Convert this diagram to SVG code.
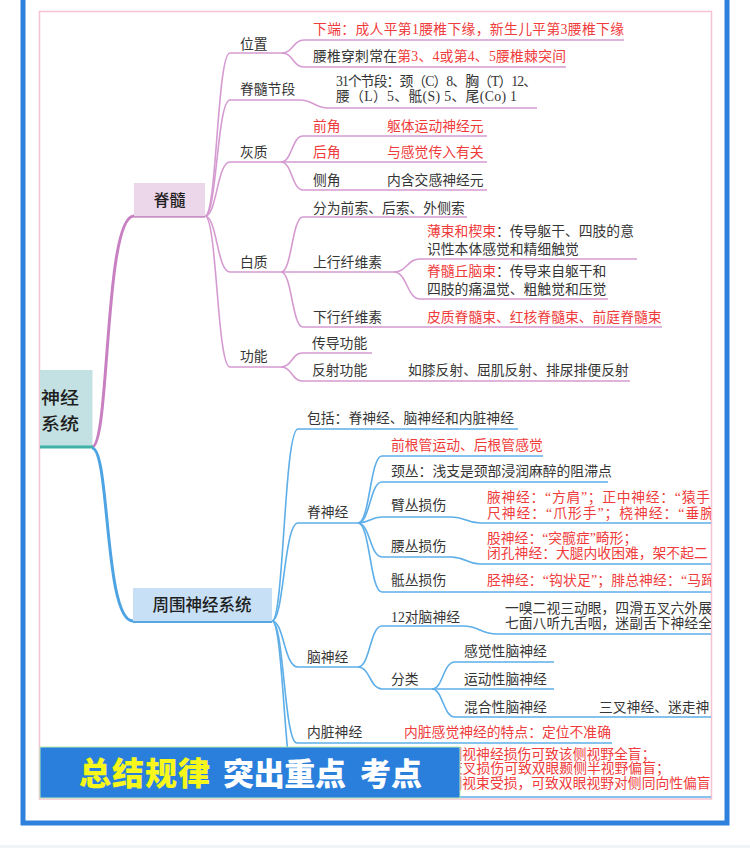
<svg xmlns="http://www.w3.org/2000/svg" width="750" height="848" viewBox="0 0 750 848">
<style>
.t{font-family:"Liberation Serif","Noto Sans CJK SC",serif;font-size:13.8px;fill:#353535}
.r{fill:#ef3b3b}
.pl{fill:none;stroke:#d59bd1;stroke-width:1.6}
.pm{fill:none;stroke:#c880c2;stroke-width:3}
.bl{fill:none;stroke:#5eaee8;stroke-width:1.6}
.bm{fill:none;stroke:#4ea3e3;stroke-width:3}
.hd{font-family:"Noto Sans CJK SC",sans-serif;font-weight:500;fill:#1e1e1e}
.bn{font-family:"Noto Sans CJK SC",sans-serif;font-weight:900}
</style>
<defs>
<clipPath id="frame"><rect x="40" y="12" width="671" height="787"/></clipPath>
</defs>
<rect x="0" y="0" width="750" height="848" fill="#ffffff"/>
<rect x="0" y="845" width="750" height="3" fill="#f0f3f7"/>
<rect x="39.5" y="11.5" width="672" height="787.5" fill="none" stroke="#f7c3d3" stroke-width="1.5"/>

<g clip-path="url(#frame)">
<g id="connectors">
  <path class="pm" d="M92,447 C110,447 104,216 134,216"/>
  <path d="M134,216 L205,216" stroke="#c98fc3" stroke-width="3.5" fill="none"/>
  <path class="pl" d="M205,216 C217,216 217,53 230,53 L282,53"/>
  <path class="pl" d="M205,216 C217,216 217,100 230,100 L300,100 C313,100 315,108 328,108 L537,108"/>
  <path class="pl" d="M205,216 C217,216 217,162 230,162 L281,162"/>
  <path class="pl" d="M205,216 C217,216 217,272 230,272 L281,272"/>
  <path class="pl" d="M205,216 C217,216 217,367 230,367 L281,367"/>
  <path class="pl" d="M282,53 C293,53 293,40 304,40 L624,40"/>
  <path class="pl" d="M282,53 C293,53 293,67 304,67 L566,67"/>
  <path class="pl" d="M281,162 C292,162 292,136 303,136 L487,136"/>
  <path class="pl" d="M281,162 L487,162"/>
  <path class="pl" d="M281,162 C292,162 292,190 303,190 L487,190"/>
  <path class="pl" d="M281,272 C292,272 292,217 303,217 L467,217"/>
  <path class="pl" d="M281,272 L394,272"/>
  <path class="pl" d="M281,272 C292,272 292,327 303,327 L662,327"/>
  <path class="pl" d="M394,272 C407,272 407,259 420,259 L637,259"/>
  <path class="pl" d="M394,272 C407,272 407,299 420,299 L608,299"/>
  <path class="pl" d="M281,367 C292,367 292,353 302,353 L372,353"/>
  <path class="pl" d="M281,367 C292,367 292,381 302,381 L630,381"/>

  <path class="bm" d="M92,448 C110,448 104,621 133,621"/>
  <path d="M133,621 L272,621" stroke="#58a6e0" stroke-width="4" fill="none"/>
  <path class="bl" d="M272,621 C284,621 284,429 298,429 L518,429"/>
  <path class="bl" d="M272,621 C284,621 284,523 298,523 L358,523"/>
  <path class="bl" d="M272,621 C284,621 284,667 298,667 L358,667"/>
  <path class="bl" d="M272,621 C284,621 284,743 297,743 L612,743"/>
  <path class="bl" d="M272,621 C284,621 284,797 298,797 L711,797"/>
  <path class="bl" d="M358,523 C370,523 370,456 382,456 L543,456"/>
  <path class="bl" d="M358,523 C370,523 370,482 382,482 L608,482"/>
  <path class="bl" d="M358,523 C370,523 370,517 382,517 L451,517 C466,517 466,523 480,523 L711,523"/>
  <path class="bl" d="M358,523 C370,523 370,557 382,557 L451,557 C466,557 466,564 480,564 L711,564"/>
  <path class="bl" d="M358,523 C370,523 370,592 382,592 L711,592"/>
  <path class="bl" d="M358,667 C370,667 370,626 382,626 L463,626 C480,626 480,634 497,634 L711,634"/>
  <path class="bl" d="M358,667 C370,667 370,689 382,689 L432,689"/>
  <path class="bl" d="M432,689 C443,689 443,662 455,662 L554,662"/>
  <path class="bl" d="M432,689 L554,689"/>
  <path class="bl" d="M432,689 C443,689 443,717 455,717 L711,717"/>
</g>

<g id="root">
  <rect x="39.5" y="370" width="53" height="77" fill="#c3e1e2"/>
  <path d="M39.5,447 L93,447" stroke="#3fb1a9" stroke-width="3"/>
  <text class="hd" x="41" y="403.5" font-size="17.5" font-weight="600" textLength="38" lengthAdjust="spacingAndGlyphs">神经</text>
  <text class="hd" x="41" y="429.5" font-size="17.5" font-weight="600" textLength="38" lengthAdjust="spacingAndGlyphs">系统</text>
</g>

<g id="jisui">
  <rect x="134" y="183" width="71" height="33" fill="#ecd6ea"/>
  <text class="hd" x="169.5" y="206" font-size="16" text-anchor="middle">脊髓</text>
</g>
<g id="weizhi">
  <text class="t" x="240" y="49">位置</text>
  <text class="t r" x="313" y="34" textLength="311">下端：成人平第1腰椎下缘，新生儿平第3腰椎下缘</text>
  <text class="t" x="313" y="61" textLength="253">腰椎穿刺常在<tspan class="r">第3、4或第4、5腰椎棘突间</tspan></text>
</g>
<g id="jiesuijieduan">
  <text class="t" x="240" y="94">脊髓节段</text>
  <text class="t" x="336" y="86" textLength="201">31个节段：颈（C）8、胸（T）12、</text>
  <text class="t" x="336" y="101" textLength="181">腰（L）5、骶(S) 5、尾(Co) 1</text>
</g>
<g id="huizhi">
  <text class="t" x="240" y="157">灰质</text>
  <text class="t r" x="313" y="131">前角</text>
  <text class="t r" x="387" y="131">躯体运动神经元</text>
  <text class="t r" x="313" y="157">后角</text>
  <text class="t r" x="387" y="157">与感觉传入有关</text>
  <text class="t" x="313" y="185">侧角</text>
  <text class="t" x="387" y="185">内含交感神经元</text>
</g>
<g id="baizhi">
  <text class="t" x="240" y="267">白质</text>
  <text class="t" x="313" y="213">分为前索、后索、外侧索</text>
  <text class="t" x="313" y="267">上行纤维素</text>
  <text class="t" x="427" y="236"><tspan class="r">薄束和楔束</tspan>：传导躯干、四肢的意</text>
  <text class="t" x="427" y="254">识性本体感觉和精细触觉</text>
  <text class="t" x="427" y="276"><tspan class="r">脊髓丘脑束</tspan>：传导来自躯干和</text>
  <text class="t" x="427" y="294">四肢的痛温觉、粗触觉和压觉</text>
  <text class="t" x="313" y="322">下行纤维素</text>
  <text class="t r" x="427" y="322">皮质脊髓束、红核脊髓束、前庭脊髓束</text>
</g>
<g id="gongneng">
  <text class="t" x="240" y="361">功能</text>
  <text class="t" x="312" y="348">传导功能</text>
  <text class="t" x="312" y="375">反射功能</text>
  <text class="t" x="408" y="375">如膝反射、屈肌反射、排尿排便反射</text>
</g>

<g id="zhouwei">
  <rect x="133" y="588" width="139" height="33" fill="#c7e0f6"/>
  <text class="hd" x="202" y="611" font-size="16.5" text-anchor="middle">周围神经系统</text>
</g>
<g id="baokuo">
  <text class="t" x="307" y="423">包括：脊神经、脑神经和内脏神经</text>
</g>
<g id="jishenjing">
  <text class="t" x="307" y="517">脊神经</text>
  <text class="t r" x="391" y="450">前根管运动、后根管感觉</text>
  <text class="t" x="391" y="476">颈丛：浅支是颈部浸润麻醉的阻滞点</text>
  <text class="t" x="391" y="510">臂丛损伤</text>
  <text class="t r" x="487" y="502" textLength="223">腋神经：“方肩”；正中神经：“猿手</text>
  <text class="t r" x="487" y="518" textLength="227">尺神经：“爪形手”；桡神经：“垂腕</text>
  <text class="t" x="391" y="551">腰丛损伤</text>
  <text class="t r" x="487" y="543">股神经：“突髋症”畸形；</text>
  <text class="t r" x="487" y="558">闭孔神经：大腿内收困难，架不起二</text>
  <text class="t" x="391" y="585">骶丛损伤</text>
  <text class="t r" x="487" y="585" textLength="228">胫神经：“钩状足”；腓总神经：“马蹄</text>
</g>
<g id="naoshenjing">
  <text class="t" x="307" y="662">脑神经</text>
  <text class="t" x="391" y="622">12对脑神经</text>
  <text class="t" x="505" y="613">一嗅二视三动眼，四滑五叉六外展</text>
  <text class="t" x="505" y="628">七面八听九舌咽，迷副舌下神经全</text>
  <text class="t" x="391" y="684">分类</text>
  <text class="t" x="464" y="656">感觉性脑神经</text>
  <text class="t" x="464" y="684">运动性脑神经</text>
  <text class="t" x="464" y="712">混合性脑神经</text>
  <text class="t" x="599" y="712">三叉神经、迷走神</text>
</g>
<g id="neizang">
  <text class="t" x="307" y="737">内脏神经</text>
  <text class="t r" x="404" y="737">内脏感觉神经的特点：定位不准确</text>
</g>
<g id="shishenjing">
  <text class="t r" x="448.5" y="759">侧视神经损伤可致该侧视野全盲；</text>
  <text class="t r" x="449" y="773">交叉损伤可致双眼颞侧半视野偏盲；</text>
  <text class="t r" x="448.5" y="788">侧视束受损，可致双眼视野对侧同向性偏盲</text>
</g>
</g>

<g id="banner">
  <rect x="40" y="747" width="420" height="51" fill="#2a7fdc" stroke="#b2ecb2" stroke-width="1"/>
  <text class="bn" x="79" y="785" font-size="32" fill="#f7f71c" textLength="131">总结规律</text>
  <text class="bn" x="223" y="785" font-size="31" fill="#ffffff" textLength="123">突出重点</text>
  <text class="bn" x="360" y="785" font-size="31" fill="#ffffff" textLength="62">考点</text>
</g>

<rect x="23" y="-20" width="704" height="843" fill="none" stroke="#2f80dc" stroke-width="5"/>
</svg>
